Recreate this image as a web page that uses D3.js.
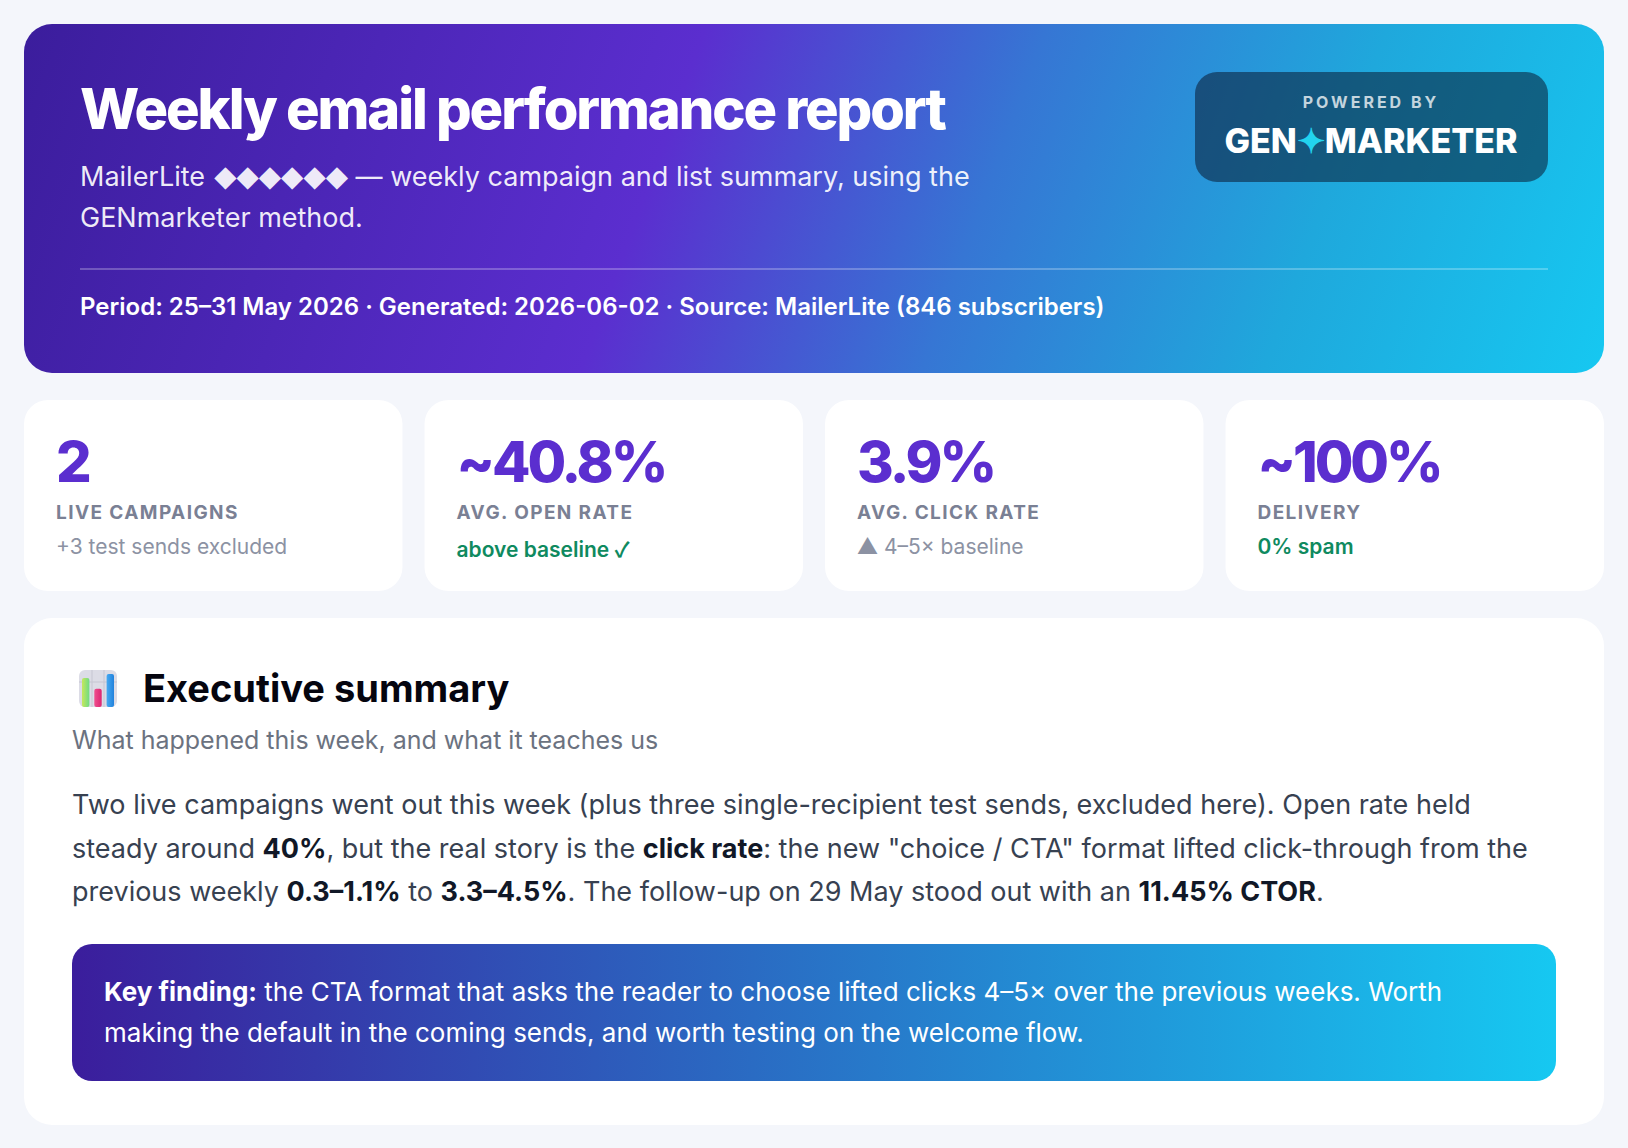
<!DOCTYPE html>
<html>
<head>
<meta charset="utf-8">
<script src="https://cdn.jsdelivr.net/npm/d3@7"></script>
<style>
  html, body { margin: 0; background: #f4f6fb; }
  svg { display: block; font-family: Inter, "DejaVu Sans", sans-serif; font-kerning: normal; }
</style>
</head>
<body>
<svg id="report" width="1628" height="1148"></svg>
<script>
// report copy
const title = "Weekly email performance report";
const subtitleLines = [
  "MailerLite ◆◆◆◆◆◆ — weekly campaign and list summary, using the",
  "GENmarketer method."
];
const metaLine = "Period: 25–31 May 2026 · Generated: 2026-06-02 · Source: MailerLite (846 subscribers)";

const statValues = ["2", "~40.8%", "3.9%", "~100%"];
const statLabels = ["LIVE CAMPAIGNS", "AVG. OPEN RATE", "AVG. CLICK RATE", "DELIVERY"];
const statNotes = ["+3 test sends excluded", "above baseline ✓", "▲ 4–5× baseline", "0% spam"];
const statNoteGood = [false, true, false, true];

// runs: [text, bold]
const summaryLines = [
  [["Two live campaigns went out this week (plus three single-recipient test sends, excluded here). Open rate held", false]],
  [["steady around ", false], ["40%", true], [", but the real story is the ", false], ["click rate", true], [": the new \"choice / CTA\" format lifted click-through from the", false]],
  [["previous weekly ", false], ["0.3–1.1%", true], [" to ", false], ["3.3–4.5%", true], [". The follow-up on 29 May stood out with an ", false], ["11.45% CTOR", true], [".", false]]
];
const findingLines = [
  [["Key finding:", true], [" the CTA format that asks the reader to choose lifted clicks 4–5× over the previous weeks. Worth", false]],
  [["making the default in the coming sends, and worth testing on the welcome flow.", false]]
];

// little bar-chart icon next to the section heading
const iconBars = ["a", "b", "c"];
const iconValues = [88, 55, 100];
const iconColors = [["#c6e85c", "#6edb84"], ["#f04f8e", "#dc2672"], ["#45a9f2", "#2282dc"]];

const svg = d3.select("#report");
const defs = svg.append("defs");

// same geometry as a css linear-gradient(angle) on a box
function boxGradient(id, box, angle, stops) {
  const a = angle * Math.PI / 180;
  const s = Math.sin(a), c = Math.cos(a);
  const len = Math.abs(box.w * s) + Math.abs(box.h * c);
  const cx = box.x + box.w / 2, cy = box.y + box.h / 2;
  const g = defs.append("linearGradient").attr("id", id)
    .attr("gradientUnits", "userSpaceOnUse")
    .attr("x1", cx - s * len / 2).attr("y1", cy + c * len / 2)
    .attr("x2", cx + s * len / 2).attr("y2", cy - c * len / 2);
  stops.forEach(([o, col]) => g.append("stop").attr("offset", o).attr("stop-color", col));
  return `url(#${id})`;
}

function box(b, r, fill) {
  return svg.append("rect")
    .attr("x", b.x).attr("y", b.y).attr("width", b.w).attr("height", b.h)
    .attr("rx", r).attr("fill", fill);
}

// Inter has its own symbol glyphs, the report shows fallback-font ones
function line(x, y, text, o) {
  const t = svg.append("text").attr("x", x).attr("y", y)
    .attr("fill", o.fill).attr("font-size", o.size).attr("font-weight", o.weight || 400)
    .attr("text-anchor", o.anchor || "start")
    .style("letter-spacing", (o.spacing || 0) + "px")
    .style("white-space", "pre");
  t.selectAll("tspan").data(text.split(/([◆✓▲]+)/).filter((s) => s)).join("tspan")
    .style("font-family", (s) => (/◆/.test(s) ? '"DejaVu Sans"' : /[✓▲]/.test(s) ? '"Noto Sans CJK SC"' : null))
    .attr("font-size", (s) => (/◆/.test(s) ? o.size + 2 : null))
    .attr("dx", (s) => (/◆/.test(s) ? 1.5 : null))
    .text((s) => s);
  return t;
}

function runsLine(x, y, runs, o) {
  const t = svg.append("text").attr("x", x).attr("y", y)
    .attr("font-size", o.size).style("white-space", "pre")
    .style("letter-spacing", (o.spacing || 0) + "px");
  t.selectAll("tspan").data(runs).join("tspan")
    .attr("fill", (d) => (d[1] ? o.boldFill : o.fill))
    .attr("font-weight", (d) => (d[1] ? 700 : 400))
    .text((d) => d[0]);
}

// header
const headerBox = { x: 24, y: 24, w: 1580, h: 349 };
box(headerBox, 28, boxGradient("headerFill", headerBox, 110,
  [[0, "#3b1d9c"], [0.4, "#5b2ecf"], [0.6, "#3676d4"], [0.8, "#1fa8dc"], [1, "#16c8f1"]]));
line(80, 129, title, { fill: "#fff", size: 56, weight: 800, spacing: -2.07 });
subtitleLines.forEach((s, i) => line(80, 186 + i * 40.5, s, { fill: "rgba(255,255,255,.92)", size: 27 }));
svg.append("line").attr("x1", 80).attr("x2", 1548).attr("y1", 269).attr("y2", 269)
  .attr("stroke", "rgba(255,255,255,.25)").attr("stroke-width", 2);
line(80, 315, metaLine, { fill: "#fff", size: 24, weight: 600 });

// badge
box({ x: 1195, y: 72, w: 353, h: 110 }, 22, "rgba(10,25,50,.55)");
line(1371, 108, "POWERED BY", { fill: "rgba(255,255,255,.75)", size: 16, weight: 700, spacing: 3, anchor: "middle" });
const brand = svg.append("text").attr("x", 1371).attr("y", 153).attr("text-anchor", "middle")
  .attr("font-size", 34).attr("font-weight", 800).attr("fill", "#fff");
brand.append("tspan").text("GEN");
brand.append("tspan").attr("fill", "#22d3ee").style("font-family", '"Noto Sans CJK SC"').text("✦");
brand.append("tspan").text("MARKETER");

// stat cards
const cardX = d3.scaleBand().domain(statLabels).range([24, 1604]).paddingInner(0.055);
statLabels.forEach((label, i) => {
  const x = cardX(label);
  box({ x, y: 400, w: cardX.bandwidth(), h: 191 }, 24, "#fff");
  line(x + 32, 482, statValues[i], { fill: "#5b2ecf", size: 56, weight: 800, spacing: -3 });
  line(x + 32, 519, label, { fill: "#7a8094", size: 19, weight: 700, spacing: 1.4 });
  line(x + 32, i === 1 ? 557 : 554, statNotes[i], {
    fill: statNoteGood[i] ? "#0f8a5f" : "#8c92a3", size: 21, weight: statNoteGood[i] ? 600 : 400
  });
});

// summary card
box({ x: 24, y: 618, w: 1580, h: 507 }, 28, "#fff");

// icon
const iconX = d3.scaleBand().domain(iconBars).range([82, 114]).paddingInner(0.4);
const iconY = d3.scaleLinear().domain([0, 100]).range([707, 674]);
box({ x: 79, y: 670, w: 38, h: 37 }, 6, "#dcdce6");
[92, 104].forEach((x) => svg.append("line").attr("x1", x).attr("x2", x).attr("y1", 670).attr("y2", 707)
  .attr("stroke", "#c6c6d2"));
svg.append("line").attr("x1", 79).attr("x2", 117).attr("y1", 682).attr("y2", 682).attr("stroke", "#c6c6d2");
iconColors.forEach((c, i) => {
  const g = defs.append("linearGradient").attr("id", "iconBar" + i).attr("x1", 0).attr("x2", 1).attr("y1", 0).attr("y2", 0);
  g.append("stop").attr("offset", 0).attr("stop-color", c[0]);
  g.append("stop").attr("offset", 1).attr("stop-color", c[1]);
});
svg.selectAll("rect.icon-bar").data(iconBars).join("rect").attr("class", "icon-bar")
  .attr("x", (d) => iconX(d)).attr("width", iconX.bandwidth())
  .attr("y", (d, i) => iconY(iconValues[i])).attr("height", (d, i) => iconY(0) - iconY(iconValues[i]))
  .attr("rx", 2).attr("fill", (d, i) => `url(#iconBar${i})`);

line(143, 702, "Executive summary", { fill: "#05050f", size: 38, weight: 700 });
line(72, 749, "What happened this week, and what it teaches us", { fill: "#6b7280", size: 25 });
[814, 858, 901].forEach((y, i) => runsLine(72, y, summaryLines[i], { fill: "#374151", boldFill: "#111827", size: 27 }));

// callout
const calloutBox = { x: 72, y: 944, w: 1484, h: 137 };
box(calloutBox, 20, boxGradient("calloutFill", calloutBox, 90, [[0, "#3b1d9c"], [1, "#16c8f1"]]));
[1001, 1042].forEach((y, i) => runsLine(104, y, findingLines[i], { fill: "#fff", boldFill: "#fff", size: 26 }));
</script>
</body>
</html>
